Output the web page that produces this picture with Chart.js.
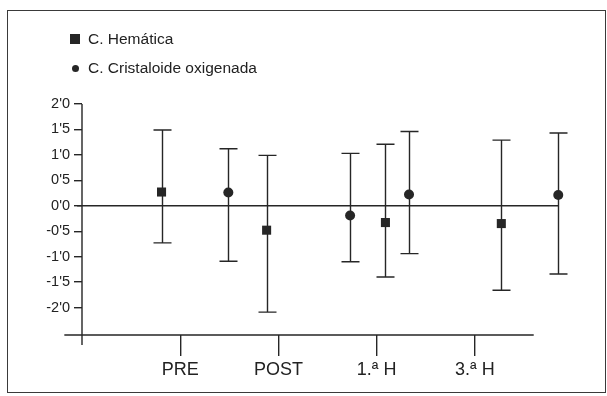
<!DOCTYPE html>
<html>
<head>
<meta charset="utf-8">
<script src="https://cdn.jsdelivr.net/npm/chart.js@4/dist/chart.umd.min.js"></script>
<style>
  body { margin: 0; background: #fff; }
  #wrap { position: relative; width: 607px; height: 396px; }
  #frame {
    position: absolute; left: 7px; top: 10px; width: 599px; height: 383px;
    box-sizing: border-box; border: 1.5px solid #3a3a3a; pointer-events: none;
  }
  .legend-row {
    position: absolute; left: 70px; height: 20px; line-height: 20px;
    font-family: "Liberation Sans", Arial, sans-serif; font-size: 15.5px; color: #222;
    display: flex; align-items: center; white-space: nowrap;
  }
  .legend-row .mark { display: inline-block; background: #262626; }
  .legend-row .square { width: 10px; height: 10px; margin-right: 8px; }
  .legend-row .dot { width: 7px; height: 7px; border-radius: 50%; margin: 0 9px 0 2px; }
</style>
</head>
<body>
<div id="wrap">
  <canvas id="chart" width="607" height="396"></canvas>
  <div id="frame"></div>
  <div class="legend-row" id="leg0" style="top:29px"><span class="mark square"></span><span></span></div>
  <div class="legend-row" id="leg1" style="top:58px"><span class="mark dot"></span><span></span></div>
</div>
<script>
const categories = ["PRE", "POST", "1.ª H", "3.ª H"];
const categoryPos = [0, 1, 2, 3];
const yTickValues = [2, 1.5, 1, 0.5, 0, -0.5, -1, -1.5, -2];
const yTickLabels = ["2'0", "1'5", "1'0", "0'5", "0'0", "-0'5", "-1'0", "-1'5", "-2'0"];

// C. Hemática
const hemX = [-0.19, 0.88, 2.09, 3.27];
const hemMean = [0.27, -0.48, -0.33, -0.35];
const hemHigh = [1.49, 0.99, 1.21, 1.29];
const hemLow = [-0.73, -2.09, -1.40, -1.66];

// C. Cristaloide oxigenada
const criX = [0.49, 1.73, 2.33, 3.85];
const criMean = [0.26, -0.19, 0.22, 0.21];
const criHigh = [1.12, 1.03, 1.46, 1.43];
const criLow = [-1.09, -1.10, -0.94, -1.34];

const ink = "#262626";
Chart.defaults.font.family = '"Liberation Sans", Arial, sans-serif';
Chart.defaults.color = "#222";

function points(xs, mean, low, high) {
  return xs.map((x, i) => ({ x: x, y: mean[i], low: low[i], high: high[i] }));
}

const errorBars = {
  id: "errorBars",
  beforeDatasetsDraw(chart) {
    const { ctx, scales: { x, y } } = chart;
    ctx.save();
    ctx.strokeStyle = ink;
    ctx.lineWidth = 1.4;
    chart.data.datasets.forEach(ds => {
      ds.data.forEach(p => {
        const px = Math.round(x.getPixelForValue(p.x)) + 0.5;
        const top = y.getPixelForValue(p.high);
        const bot = y.getPixelForValue(p.low);
        ctx.beginPath();
        ctx.moveTo(px, top);
        ctx.lineTo(px, bot);
        ctx.moveTo(px - 9, top);
        ctx.lineTo(px + 9, top);
        ctx.moveTo(px - 9, bot);
        ctx.lineTo(px + 9, bot);
        ctx.stroke();
      });
    });
    ctx.restore();
  }
};

// axis lines and the zero reference line
const axesLines = {
  id: "axesLines",
  beforeDatasetsDraw(chart) {
    const { ctx, scales: { x, y } } = chart;
    const lastX = Math.max(...hemX, ...criX);
    ctx.save();
    ctx.strokeStyle = ink;
    ctx.lineWidth = 1.4;
    ctx.beginPath();
    // y axis, runs a bit below the x axis
    ctx.moveTo(x.getPixelForValue(-1), y.getPixelForValue(2));
    ctx.lineTo(x.getPixelForValue(-1), y.bottom + 10);
    // x axis
    ctx.moveTo(x.getPixelForValue(-1.18), y.bottom);
    ctx.lineTo(x.getPixelForValue(3.6), y.bottom);
    // zero line
    ctx.moveTo(x.getPixelForValue(-1.05), y.getPixelForValue(0));
    ctx.lineTo(x.getPixelForValue(lastX), y.getPixelForValue(0));
    ctx.stroke();
    ctx.restore();
  }
};

const chart = new Chart(document.getElementById("chart"), {
  type: "scatter",
  data: {
    datasets: [
      {
        label: "C. Hemática",
        data: points(hemX, hemMean, hemLow, hemHigh),
        pointStyle: "rect",
        pointRadius: 6.4,
        backgroundColor: ink,
        borderWidth: 0
      },
      {
        label: "C. Cristaloide oxigenada",
        data: points(criX, criMean, criLow, criHigh),
        pointStyle: "circle",
        pointRadius: 5,
        backgroundColor: ink,
        borderWidth: 0
      }
    ]
  },
  options: {
    responsive: false,
    animation: false,
    events: [],
    layout: { padding: { top: 104, right: 34, left: 0, bottom: 0 } },
    plugins: { legend: { display: false }, tooltip: { enabled: false } },
    scales: {
      x: {
        type: "linear",
        min: -1,
        max: 4,
        afterBuildTicks: s => { s.ticks = categoryPos.map(v => ({ value: v })); },
        afterFit: s => { s.height = 61; },
        grid: { drawOnChartArea: false, tickLength: 21, color: ink, lineWidth: 1.4 },
        border: { display: false },
        ticks: { callback: (v, i) => categories[i], font: { size: 18 }, padding: 3, maxRotation: 0 }
      },
      y: {
        min: -2.54,
        max: 2,
        afterBuildTicks: s => { s.ticks = yTickValues.map(v => ({ value: v })); },
        afterFit: s => { s.width = 82; },
        grid: { drawOnChartArea: false, tickLength: 8, color: ink, lineWidth: 1.4 },
        border: { display: false },
        ticks: { callback: (v, i) => yTickLabels[i], font: { size: 14.5 }, padding: 4 }
      }
    }
  },
  plugins: [axesLines, errorBars]
});

chart.data.datasets.forEach((ds, i) => {
  document.querySelector("#leg" + i + " span:last-child").textContent = ds.label;
});
</script>
</body>
</html>
